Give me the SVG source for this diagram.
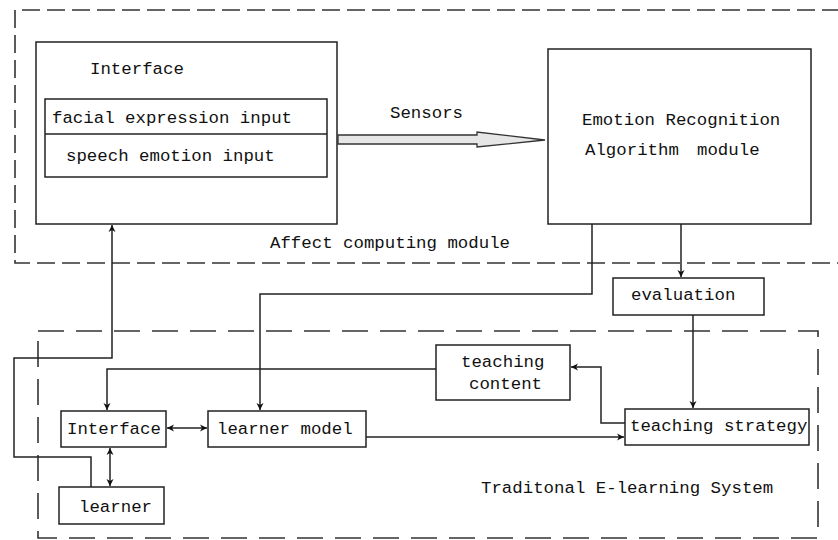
<svg xmlns="http://www.w3.org/2000/svg" width="838" height="540" viewBox="0 0 838 540">
<defs>
<style>
.box{fill:#fff;stroke:#222;stroke-width:1.5}
.t{font-family:"Liberation Mono","DejaVu Sans Mono",monospace;font-size:17.4px;fill:#111}
.c{fill:none;stroke:#222;stroke-width:1.5}
.dash{fill:none;stroke:#333;stroke-width:1.6}
</style>
<marker id="ah" markerUnits="userSpaceOnUse" markerWidth="8" markerHeight="8" refX="7" refY="4" orient="auto-start-reverse">
<path d="M0,0.5 L7,4 L0,7.5 L2,4 z" fill="#111"/>
</marker>
</defs>
<rect width="838" height="540" fill="#fff"/>

<g id="affect-module">
<path class="dash" d="M840,10 H15 V263 H840" stroke-dasharray="18 7"/>
<text class="t" x="270" y="248">Affect computing module</text>
</g>

<g id="elearning-system">
<rect class="dash" x="38" y="331" width="780" height="207" stroke-dasharray="26 12"/>
<text class="t" x="481" y="493">Traditonal E-learning System</text>
</g>

<g id="interface-top">
<rect class="box" x="36" y="42" width="301" height="182"/>
<text class="t" x="90" y="74">Interface</text>
<rect class="box" x="45" y="99" width="282" height="78"/>
<line class="c" x1="45" y1="134" x2="327" y2="134"/>
<text class="t" x="52" y="123">facial expression input</text>
<text class="t" x="66" y="161">speech emotion input</text>
</g>

<g id="era">
<rect class="box" x="548" y="49" width="263" height="175"/>
<text class="t" x="582" y="125">Emotion Recognition</text>
<text class="t" x="585" y="155">Algorithm<tspan x="697">module</tspan></text>
</g>

<g id="evaluation">
<rect class="box" x="613" y="278" width="151" height="37"/>
<text class="t" x="631" y="300">evaluation</text>
</g>

<g id="teaching-content">
<rect class="box" x="436" y="345" width="134" height="55"/>
<text class="t" x="461" y="367">teaching</text>
<text class="t" x="469" y="389">content</text>
</g>

<g id="teaching-strategy">
<rect class="box" x="625" y="409" width="184" height="36"/>
<text class="t" x="630" y="431">teaching strategy</text>
</g>

<g id="interface-bottom">
<rect class="box" x="61" y="411" width="105" height="36"/>
<text class="t" x="67" y="434">Interface</text>
</g>

<g id="learner-model">
<rect class="box" x="208" y="411" width="158" height="36"/>
<text class="t" x="217" y="434">learner model</text>
</g>

<g id="learner">
<rect class="box" x="59" y="487" width="105" height="37"/>
<text class="t" x="79" y="512">learner</text>
</g>

<g id="connectors">
<polygon points="338,135 477,135 477,132 545,140 477,147 477,144 338,144" fill="#e6e6e6" stroke="#333" stroke-width="1.3"/>
<text class="t" x="390" y="118">Sensors</text>
<path class="c" d="M91,487 V457 H14 V358 H112 V225" marker-end="url(#ah)"/>
<path class="c" d="M592,224 V294 H260 V410" marker-end="url(#ah)"/>
<path class="c" d="M681,224 V277" marker-end="url(#ah)"/>
<path class="c" d="M693,315 V408" marker-end="url(#ah)"/>
<path class="c" d="M625,423 H601 V367 H571" marker-end="url(#ah)"/>
<path class="c" d="M436,369 H107 V410" marker-end="url(#ah)"/>
<path class="c" d="M167,428 H207" marker-start="url(#ah)" marker-end="url(#ah)"/>
<path class="c" d="M110,448 V486" marker-start="url(#ah)" marker-end="url(#ah)"/>
<path class="c" d="M366,437 H624" marker-end="url(#ah)"/>
</g>
</svg>
